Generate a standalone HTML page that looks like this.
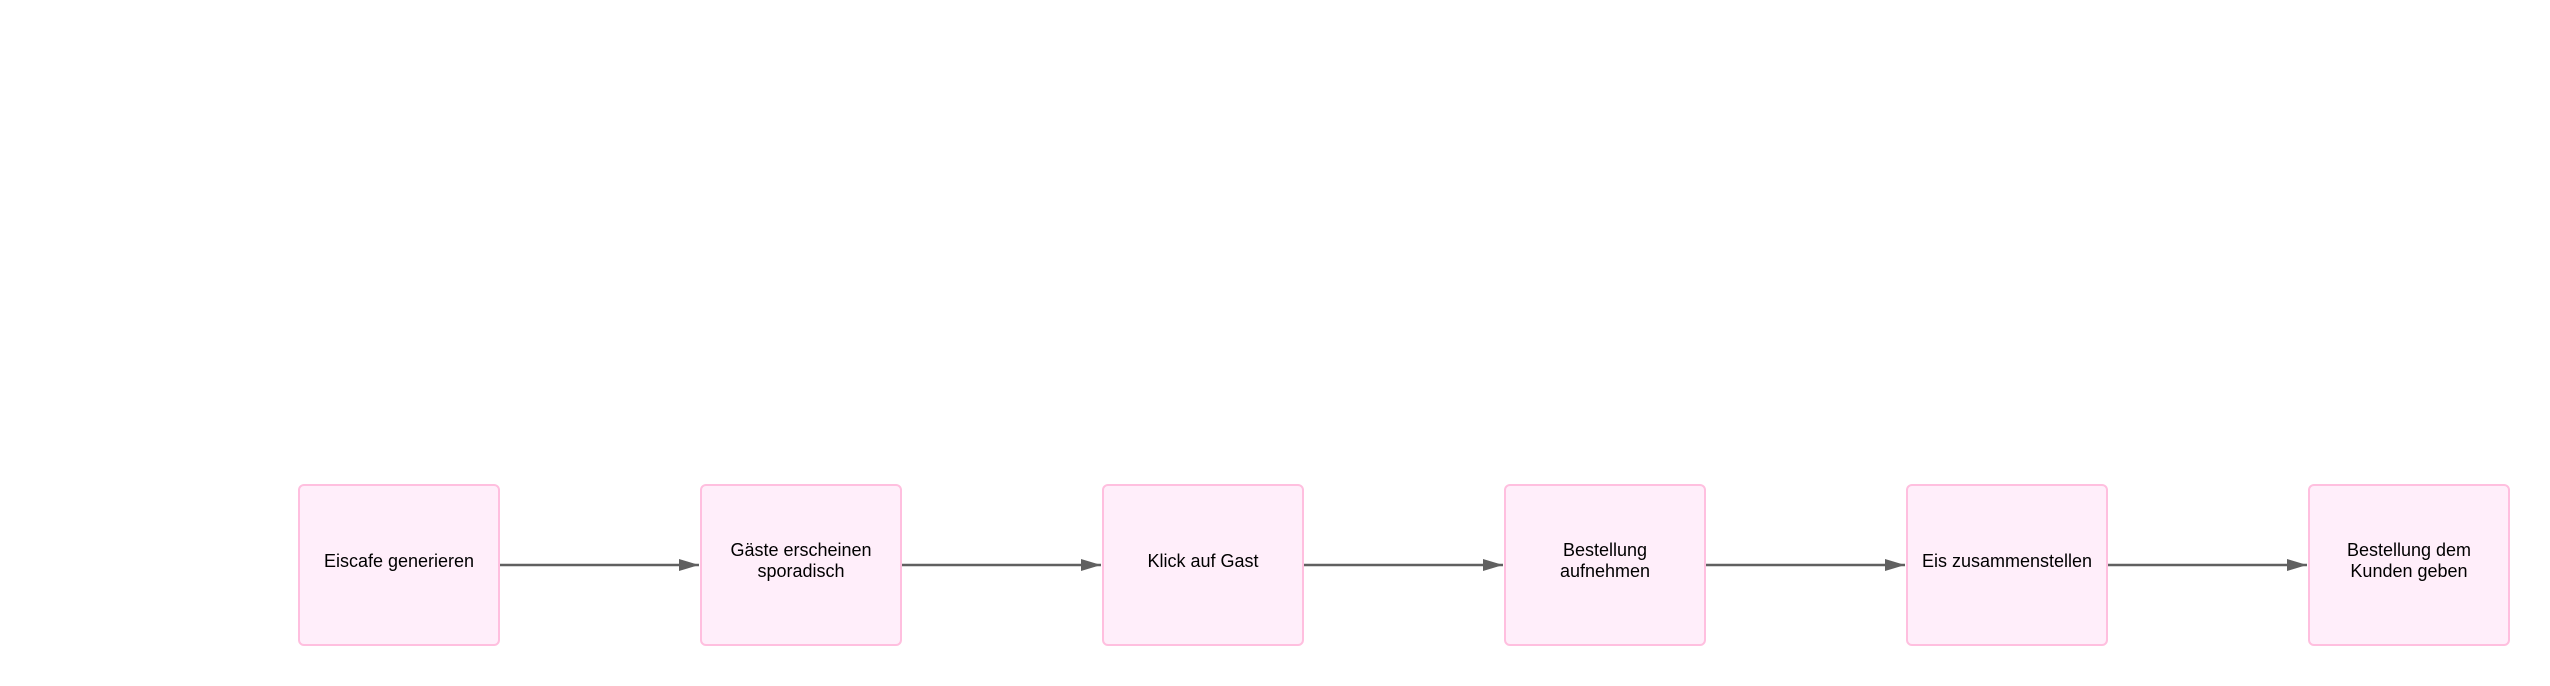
<!DOCTYPE html>
<html><head><meta charset="utf-8"><style>
html,body{margin:0;padding:0;background:#fff;}
body{width:2550px;height:686px;position:relative;overflow:hidden;font-family:"Liberation Sans",Arial,sans-serif;}
.b{position:absolute;top:484px;width:198px;height:158px;background:#ffeefa;border:2px solid #ffbfdf;border-radius:6px;display:flex;align-items:center;justify-content:center;text-align:center;font-size:18px;line-height:21px;color:#000;box-sizing:content-box;padding-bottom:0;}
.b span{position:relative;top:-4px;}
</style></head><body>
<svg width="2550" height="686" style="position:absolute;left:0;top:0">
<defs><marker id="a" markerWidth="20" markerHeight="12" refX="20" refY="6" orient="auto" markerUnits="userSpaceOnUse"><path d="M0,0L20,6L0,12z" fill="#606060"/></marker></defs>
<g stroke="#606060" stroke-width="2.5" fill="none" marker-end="url(#a)">
<line x1="500" y1="565" x2="699" y2="565"/>
<line x1="902" y1="565" x2="1101" y2="565"/>
<line x1="1304" y1="565" x2="1503" y2="565"/>
<line x1="1706" y1="565" x2="1905" y2="565"/>
<line x1="2108" y1="565" x2="2307" y2="565"/>
</g></svg>
<div class="b" style="left:298px"><span>Eiscafe generieren</span></div>
<div class="b" style="left:700px"><span>Gäste erscheinen<br>sporadisch</span></div>
<div class="b" style="left:1102px"><span>Klick auf Gast</span></div>
<div class="b" style="left:1504px"><span>Bestellung<br>aufnehmen</span></div>
<div class="b" style="left:1906px"><span>Eis zusammenstellen</span></div>
<div class="b" style="left:2308px"><span>Bestellung dem<br>Kunden geben</span></div>
</body></html>
